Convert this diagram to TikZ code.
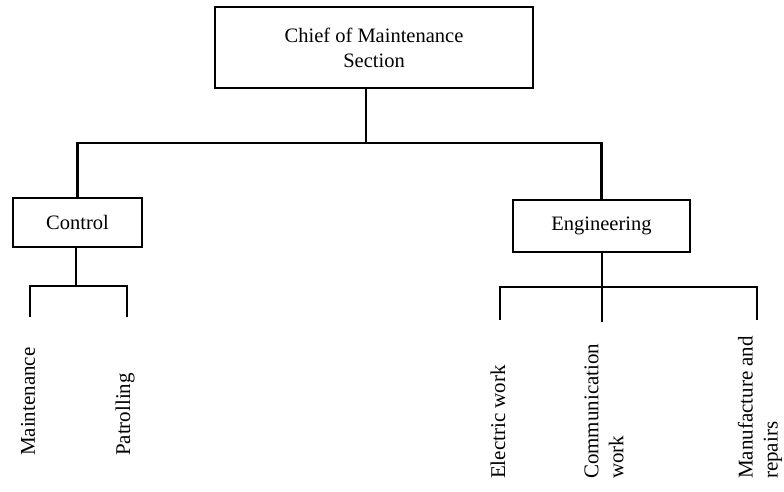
\documentclass[tikz,border=0pt]{standalone}
\usepackage{fontspec}
\setmainfont{Liberation Serif}
\begin{document}
\begin{tikzpicture}[x=1pt,y=-1pt,
  line width=2.1pt,
  unit/.style={draw, rectangle, inner sep=0pt, align=center,
    font=\fontsize{20.5}{25}\selectfont},
  leaf/.style={rotate=90, anchor=west, inner sep=0pt, align=left,
    font=\fontsize{21}{25}\selectfont}]
\useasboundingbox (0,0) rectangle (784,492);

% departments
\node[unit, minimum width=318pt, minimum height=81pt] (chief) at (374,47.5)
  {Chief of Maintenance\\Section\hspace*{0pt}};
\node[unit, minimum width=129pt, minimum height=49pt] (control) at (77.5,222.5) {Control};
\node[unit, minimum width=177pt, minimum height=52pt] (eng) at (601.5,226) {Engineering};

% sections
\node[leaf] (maint) at (28,457) {Maintenance};
\node[leaf] (patrol) at (125,457) {Patrolling};
\node[leaf] (elec) at (498,480) {Electric work};
\node[leaf] (comm) at (604,480) {Communication\\work};
\node[leaf] (manuf) at (760,480) {Manufacture and\\repairs};

% branching points
\coordinate (top) at (366,143);
\coordinate (cbar) at (76,286);
\coordinate (ebar) at (602,287);
\coordinate (mEnd) at (30,317);
\coordinate (pEnd) at (127,317);
\coordinate (eEnd) at (500,320);
\coordinate (cEnd) at (602,322);
\coordinate (fEnd) at (757,320);

% chief to departments
\draw (chief.south -| top) -- (top);
\draw (control.north) -- (control.north |- top) -- (eng.north |- top) -- (eng.north);

% control to its sections
\draw (control.south -| cbar) -- (cbar);
\draw (mEnd) -- (mEnd |- cbar) -- (pEnd |- cbar) -- (pEnd);

% engineering to its sections
\draw (eng.south -| ebar) -- (cEnd);
\draw (eEnd) -- (eEnd |- ebar) -- (fEnd |- ebar) -- (fEnd);
\end{tikzpicture}
\end{document}
